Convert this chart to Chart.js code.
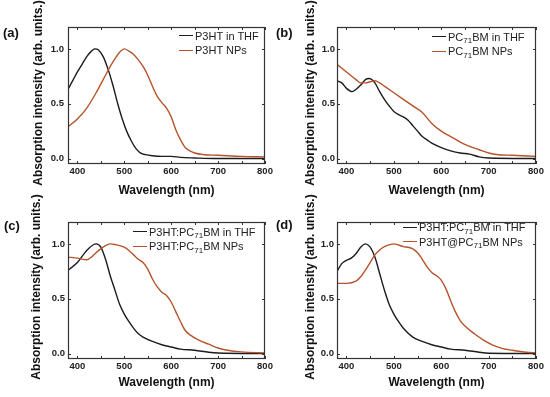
<!DOCTYPE html>
<html><head><meta charset="utf-8">
<script src="https://cdn.jsdelivr.net/npm/chart.js@4.4.1/dist/chart.umd.min.js"></script>
<style>
html,body{margin:0;padding:0;background:#fff;}
#wrap{position:relative;width:550px;height:397px;overflow:hidden;font-family:"Liberation Sans",Arial,sans-serif;}
canvas{position:absolute;}
.lab{position:absolute;font-weight:bold;font-size:13px;color:#111;line-height:14px;}
.ytitle{position:absolute;width:220px;text-align:center;font-weight:bold;font-size:12px;line-height:14px;color:#111;white-space:nowrap;transform:translate(-50%,-50%) rotate(-90deg);}
.leg{position:absolute;font-size:11px;color:#222;white-space:nowrap;}
.leg .row{display:flex;align-items:center;height:14.5px;}
.leg .ln{display:inline-block;width:14px;height:0;border-top:1.3px solid;margin-right:2px;}
.leg sub{font-size:8px;vertical-align:baseline;position:relative;top:2.5px;line-height:0;}
</style></head>
<body>
<div id="wrap">
  <canvas id="ca" width="275" height="200" style="left:0;top:0"></canvas>
  <canvas id="cb" width="275" height="200" style="left:275px;top:0"></canvas>
  <canvas id="cc" width="275" height="197" style="left:0;top:200px"></canvas>
  <canvas id="cd" width="275" height="197" style="left:275px;top:200px"></canvas>

  <div class="lab" style="left:3px;top:26px">(a)</div>
  <div class="lab" style="left:276px;top:26px">(b)</div>
  <div class="lab" style="left:4px;top:219px">(c)</div>
  <div class="lab" style="left:276px;top:218px">(d)</div>

  <div class="ytitle" style="left:38px;top:93px">Absorption intensity (arb. units.)</div>
  <div class="ytitle" style="left:310px;top:93px">Absorption intensity (arb. units.)</div>
  <div class="ytitle" style="left:36px;top:287px">Absorption intensity (arb. units.)</div>
  <div class="ytitle" style="left:310px;top:287px">Absorption intensity (arb. units.)</div>

  <div class="leg" style="left:179px;top:28.5px">
    <div class="row"><span class="ln" style="border-color:#1c1c1c"></span><span>P3HT in THF</span></div>
    <div class="row"><span class="ln" style="border-color:#b5532c"></span><span>P3HT NPs</span></div>
  </div>
  <div class="leg" style="left:432px;top:29.5px">
    <div class="row"><span class="ln" style="border-color:#1c1c1c"></span><span>PC<sub>71</sub>BM in THF</span></div>
    <div class="row"><span class="ln" style="border-color:#b5532c"></span><span>PC<sub>71</sub>BM NPs</span></div>
  </div>
  <div class="leg" style="left:133px;top:224.5px">
    <div class="row"><span class="ln" style="border-color:#1c1c1c"></span><span>P3HT:PC<sub>71</sub>BM in THF</span></div>
    <div class="row"><span class="ln" style="border-color:#b5532c"></span><span>P3HT:PC<sub>71</sub>BM NPs</span></div>
  </div>
  <div class="leg" style="left:403px;top:220px">
    <div class="row"><span class="ln" style="border-color:#1c1c1c"></span><span>P3HT:PC<sub>71</sub>BM in THF</span></div>
    <div class="row"><span class="ln" style="border-color:#b5532c"></span><span>P3HT@PC<sub>71</sub>BM NPs</span></div>
  </div>
</div>
<script>
// ---- axis ticks ----
const xTicks = [400, 500, 600, 700, 800];
const xMinorTicks = [450, 550, 650, 750];
const yTicks = [0.0, 0.5, 1.0];

// ---- panel (a): P3HT ----
const aThfX = [380,390,400,410,420,430,437,445,455,465,475,486,495,505,515,525,535,545,560,580,600,620,650,700,800];
const aThfY = [0.63,0.71,0.79,0.86,0.93,0.98,1.0,0.99,0.93,0.82,0.68,0.50,0.37,0.25,0.16,0.09,0.05,0.035,0.025,0.02,0.02,0.01,0.005,0.0,0.0];
const aNpX = [380,400,420,440,460,470,480,490,500,510,520,530,540,550,560,570,580,590,600,610,620,630,640,650,670,700,750,800];
const aNpY = [0.29,0.36,0.46,0.60,0.76,0.84,0.91,0.97,1.0,0.98,0.95,0.90,0.84,0.76,0.66,0.57,0.51,0.46,0.38,0.26,0.17,0.10,0.07,0.05,0.035,0.03,0.02,0.015];

// ---- panel (b): PC71BM ----
const bThfX = [380,390,400,412,420,430,440,448,460,470,480,490,500,510,520,530,540,550,560,570,580,600,620,640,660,680,700,800];
const bThfY = [0.71,0.69,0.64,0.61,0.63,0.67,0.72,0.73,0.69,0.61,0.54,0.48,0.43,0.40,0.38,0.35,0.30,0.25,0.20,0.17,0.14,0.10,0.07,0.05,0.04,0.015,0.005,0.0];
const bNpX = [380,400,420,430,440,450,460,470,480,500,520,540,560,580,600,620,640,660,680,700,720,750,800];
const bNpY = [0.86,0.79,0.72,0.69,0.69,0.70,0.71,0.69,0.66,0.60,0.54,0.48,0.42,0.32,0.25,0.20,0.15,0.11,0.08,0.05,0.035,0.03,0.02];

// ---- panel (c): P3HT:PC71BM ----
const cThfX = [380,400,420,440,450,460,470,480,490,500,510,520,530,540,560,580,600,620,650,680,700,800];
const cThfY = [0.76,0.83,0.94,1.0,0.97,0.86,0.71,0.58,0.45,0.36,0.29,0.23,0.18,0.15,0.11,0.08,0.06,0.04,0.03,0.012,0.005,0.0];
const cNpX = [380,400,420,430,440,450,460,470,480,500,510,520,530,540,550,560,570,580,590,600,610,620,630,640,660,680,700,720,750,800];
const cNpY = [0.88,0.87,0.855,0.88,0.92,0.955,0.985,1.0,0.995,0.97,0.94,0.90,0.86,0.83,0.77,0.68,0.61,0.56,0.53,0.47,0.38,0.29,0.21,0.17,0.12,0.085,0.05,0.03,0.015,0.006];

// ---- panel (d): P3HT:PC71BM vs P3HT@PC71BM NPs ----
const dThfX = [380,390,400,410,420,430,440,450,460,470,480,490,500,510,520,540,560,580,600,620,650,680,700,800];
const dThfY = [0.75,0.82,0.85,0.87,0.91,0.97,1.0,0.97,0.88,0.73,0.58,0.45,0.36,0.29,0.23,0.15,0.11,0.08,0.06,0.04,0.03,0.012,0.003,0.0];
const dNpX = [380,400,420,430,440,450,460,470,480,500,510,520,530,540,550,560,570,580,590,600,610,620,630,640,650,670,690,710,730,750,780,800];
const dNpY = [0.64,0.64,0.66,0.70,0.76,0.83,0.90,0.945,0.975,1.0,0.99,0.975,0.97,0.955,0.92,0.86,0.79,0.74,0.71,0.67,0.59,0.48,0.38,0.30,0.25,0.18,0.12,0.075,0.045,0.03,0.012,0.006];

const BLACK = '#1c1c1c', ORANGE = '#b5532c';
const FONT = '"Liberation Sans", Arial, sans-serif';

function pts(xs, ys){ return xs.map((x,i)=>({x:x, y:ys[i]})); }

const framePlugin = {
  id:'frame',
  afterDraw(chart){
    const {ctx, chartArea:a, scales} = chart;
    const x = scales.x, y = scales.y;
    ctx.save();
    ctx.strokeStyle = '#333';
    ctx.lineWidth = 1.2;
    ctx.strokeRect(a.left+0.5, a.top+0.5, a.right-a.left-1, a.bottom-a.top-1);
    ctx.lineWidth = 1;
    ctx.beginPath();
    xTicks.concat(xMinorTicks).forEach(v=>{
      const px = Math.round(x.getPixelForValue(v))+0.5;
      ctx.moveTo(px, a.bottom); ctx.lineTo(px, a.bottom-3);
      ctx.moveTo(px, a.top); ctx.lineTo(px, a.top+3);
    });
    yTicks.forEach(v=>{
      const py = Math.round(y.getPixelForValue(v))+0.5;
      ctx.moveTo(a.left, py); ctx.lineTo(a.left+3, py);
      ctx.moveTo(a.right, py); ctx.lineTo(a.right-3, py);
    });
    ctx.stroke();
    ctx.restore();
  }
};

function makePanel(id, p){
  new Chart(document.getElementById(id), {
    type:'line',
    data:{datasets:[
      {label:p.l2, data:pts(p.x2,p.y2), borderColor:ORANGE, borderWidth:1.4, pointRadius:0, cubicInterpolationMode:'monotone', fill:false},
      {label:p.l1, data:pts(p.x1,p.y1), borderColor:BLACK, borderWidth:1.4, pointRadius:0, cubicInterpolationMode:'monotone', fill:false}
    ]},
    options:{
      responsive:false, animation:false, events:[],
      layout:{padding:{top:p.top, right:p.right, left:0, bottom:0}},
      plugins:{legend:{display:false}, tooltip:{enabled:false}},
      scales:{
        x:{type:'linear', min:380, max:800,
           afterBuildTicks(s){ s.ticks = xTicks.map(v=>({value:v})); },
           afterFit(s){ s.height = p.xh; },
           grid:{display:false, drawTicks:false}, border:{display:false},
           ticks:{padding:2, color:'#222', font:{family:FONT, size:9.5, weight:'bold'}, maxRotation:0, callback:v=>String(v)},
           title:{display:true, text:'Wavelength (nm)', color:'#111', font:{family:FONT, size:12, weight:'bold'}, padding:{top:0, bottom:p.tb}}
        },
        y:{type:'linear', min:-0.05, max:1.2,
           afterBuildTicks(s){ s.ticks = yTicks.map(v=>({value:v})); },
           afterFit(s){ s.width = p.yw; },
           grid:{display:false, drawTicks:false}, border:{display:false},
           ticks:{padding:p.yp, color:'#222', font:{family:FONT, size:9.5, weight:'bold'}, callback:v=>Number(v).toFixed(1)}
        }
      }
    },
    plugins:[framePlugin]
  });
}

makePanel('ca', {x1:aThfX, y1:aThfY, x2:aNpX, y2:aNpY, l1:'P3HT in THF', l2:'P3HT NPs', top:27, right:10, yw:68, xh:36, tb:2, yp:4});
makePanel('cb', {x1:bThfX, y1:bThfY, x2:bNpX, y2:bNpY, l1:'PC71BM in THF', l2:'PC71BM NPs', top:27, right:14, yw:62, xh:36, tb:2, yp:2});
makePanel('cc', {x1:cThfX, y1:cThfY, x2:cNpX, y2:cNpY, l1:'P3HT:PC71BM in THF', l2:'P3HT:PC71BM NPs', top:22, right:10, yw:68, xh:38, tb:7, yp:3});
makePanel('cd', {x1:dThfX, y1:dThfY, x2:dNpX, y2:dNpY, l1:'P3HT:PC71BM in THF', l2:'P3HT@PC71BM NPs', top:22, right:14, yw:62, xh:38, tb:7, yp:3});
</script>
</body></html>
